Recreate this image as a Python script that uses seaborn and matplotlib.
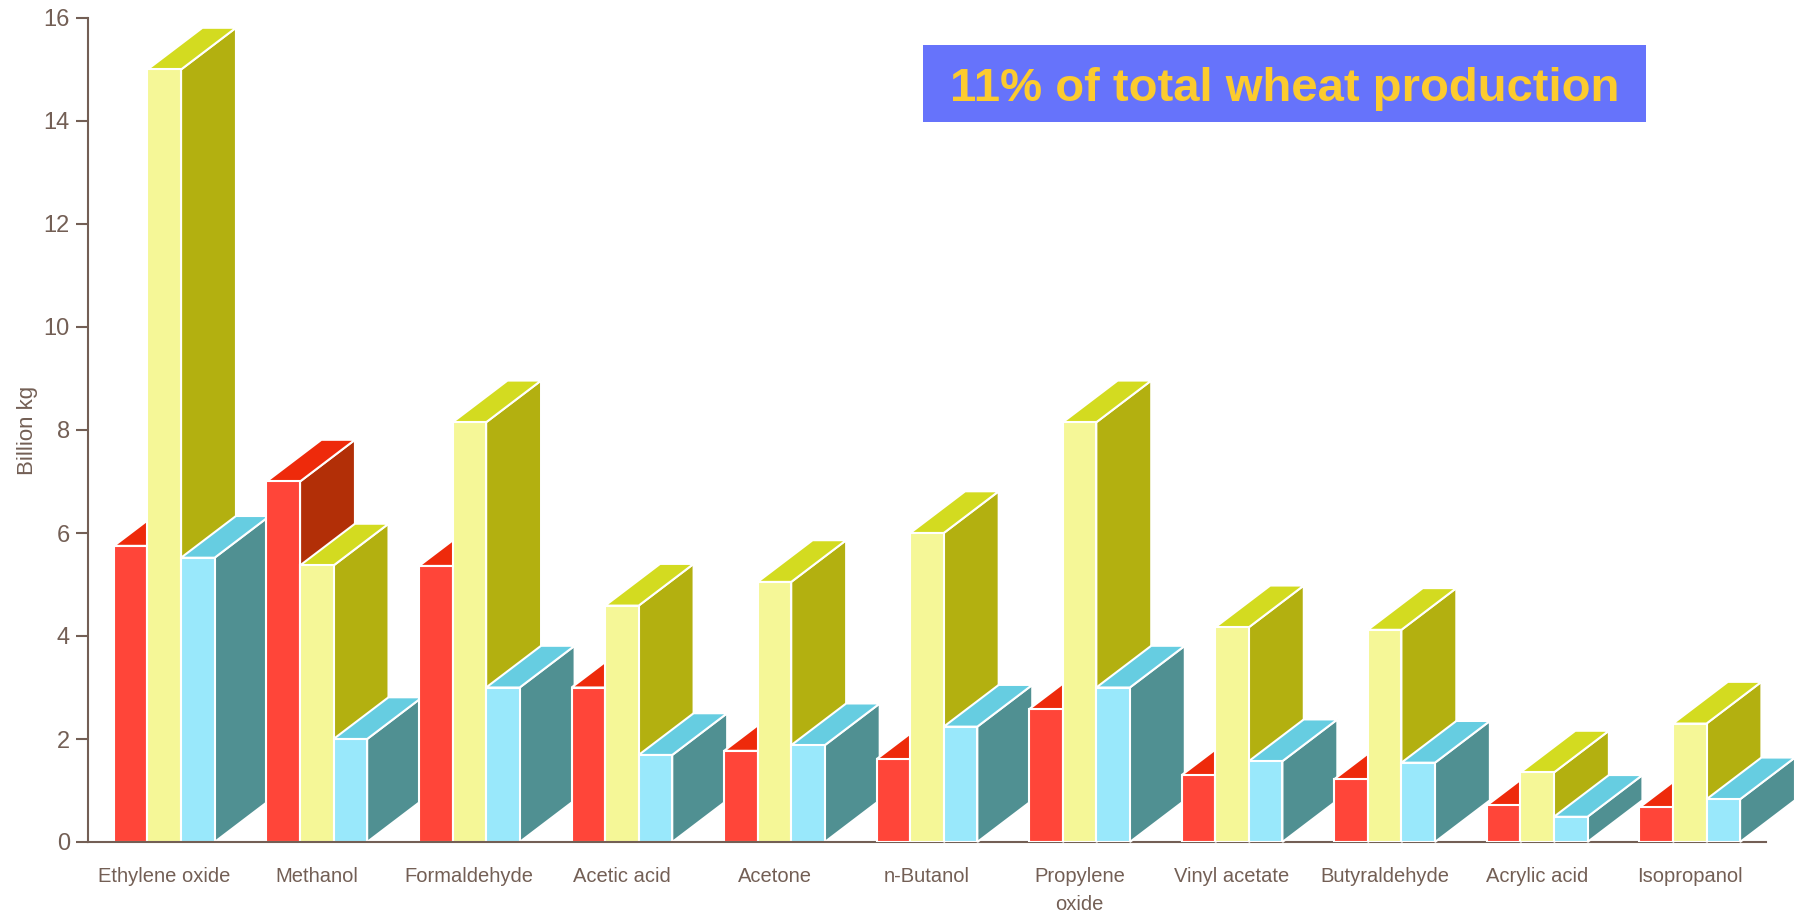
import numpy as np
import pandas as pd
import matplotlib
matplotlib.use('Agg')
import matplotlib.pyplot as plt
from matplotlib.patches import Polygon, Rectangle
import seaborn as sns

# data
chemicals = ['Ethylene oxide', 'Methanol', 'Formaldehyde', 'Acetic acid', 'Acetone',
             'n-Butanol', 'Propylene\noxide', 'Vinyl acetate', 'Butyraldehyde',
             'Acrylic acid', 'Isopropanol']
series_names = ['Series 1', 'Series 2', 'Series 3']
red_vals = [5.75, 7.0, 5.36, 3.0, 1.77, 1.61, 2.58, 1.30, 1.22, 0.71, 0.67]
yellow_vals = [15.0, 5.37, 8.15, 4.59, 5.05, 6.0, 8.15, 4.17, 4.12, 1.35, 2.30]
cyan_vals = [5.52, 2.0, 3.0, 1.69, 1.88, 2.24, 3.0, 1.57, 1.54, 0.49, 0.83]

front_cols = ['#FF4539', '#F5F797', '#99E8FB']
top_cols = ['#EE2A0B', '#D3DB20', '#66CDE1']
side_cols = ['#B22F07', '#B3B010', '#509092']
axis_col = '#735F55'

df = pd.DataFrame({
    'chemical': chemicals * 3,
    'series': np.repeat(series_names, len(chemicals)),
    'value': red_vals + yellow_vals + cyan_vals,
})

sns.set_style('white')
plt.rcParams['font.family'] = ['Liberation Sans', 'DejaVu Sans']

fig = plt.figure(figsize=(17.98, 9.14), dpi=100)
ax = fig.add_axes([88 / 1798, 72 / 914, (1766 - 88) / 1798, 824 / 914])

sns.barplot(data=df, x='chemical', y='value', hue='series', hue_order=series_names,
            palette=dict(zip(series_names, front_cols)), saturation=1, width=0.66,
            edgecolor='white', linewidth=1.5, errorbar=None, legend=False, ax=ax)

ax.set_xlim(-0.5, 10.5)
ax.set_ylim(0, 16)

# fake 3d: side and top faces, depth in data units
dx, dy = 0.36, 0.81
for j, cont in enumerate(ax.containers):
    for i, p in enumerate(cont.patches):
        x0 = p.get_x()
        x1 = x0 + p.get_width()
        h = p.get_height()
        z = 2 + i * 0.1 + j * 0.03
        p.set_zorder(z + 0.02)
        side = Polygon([(x1, 0), (x1 + dx, dy), (x1 + dx, h + dy), (x1, h)],
                       closed=True, fc=side_cols[j], ec='white', lw=1.5, zorder=z,
                       clip_on=False)
        top = Polygon([(x0, h), (x0 + dx, h + dy), (x1 + dx, h + dy), (x1, h)],
                      closed=True, fc=top_cols[j], ec='white', lw=1.5, zorder=z + 0.01,
                      clip_on=False)
        ax.add_patch(side)
        ax.add_patch(top)

ax.set_yticks(np.arange(0, 17, 2))
ax.set_xticks(np.arange(-0.5, 11, 1), labels=[''] * 12)
ax.set_xticks(np.arange(11), labels=chemicals, minor=True)
ax.tick_params(axis='x', which='major', length=12, width=1.5, color=axis_col, direction='out')
ax.tick_params(axis='x', which='minor', length=0, pad=18, labelsize=14.5, labelcolor=axis_col)
ax.tick_params(axis='y', length=9, width=1.5, color=axis_col, labelcolor=axis_col,
               labelsize=17, pad=4, left=True)
for lbl in ax.get_xticklabels(minor=True):
    lbl.set_linespacing(1.6)

sns.despine(ax=ax)
for s in ['left', 'bottom']:
    ax.spines[s].set_color(axis_col)
    ax.spines[s].set_linewidth(1.5)

ax.set_xlabel('')
ax.set_ylabel('Billion kg', fontsize=16, color=axis_col, labelpad=4)

# title box
fig.patches.append(Rectangle((923 / 1798, 1 - 122 / 914), (1646 - 923) / 1798, 77 / 914,
                             transform=fig.transFigure, fc='#6673FB', ec='none', zorder=5))
fig.text((923 + 1646) / 2 / 1798, 1 - 101 / 914, '11% of total wheat production',
         ha='center', va='baseline', fontsize=34, fontweight='bold', color='#FCCB2E',
         family=['Liberation Sans Narrow', 'Liberation Sans'], zorder=6)

fig.savefig('out.png', dpi=100)
